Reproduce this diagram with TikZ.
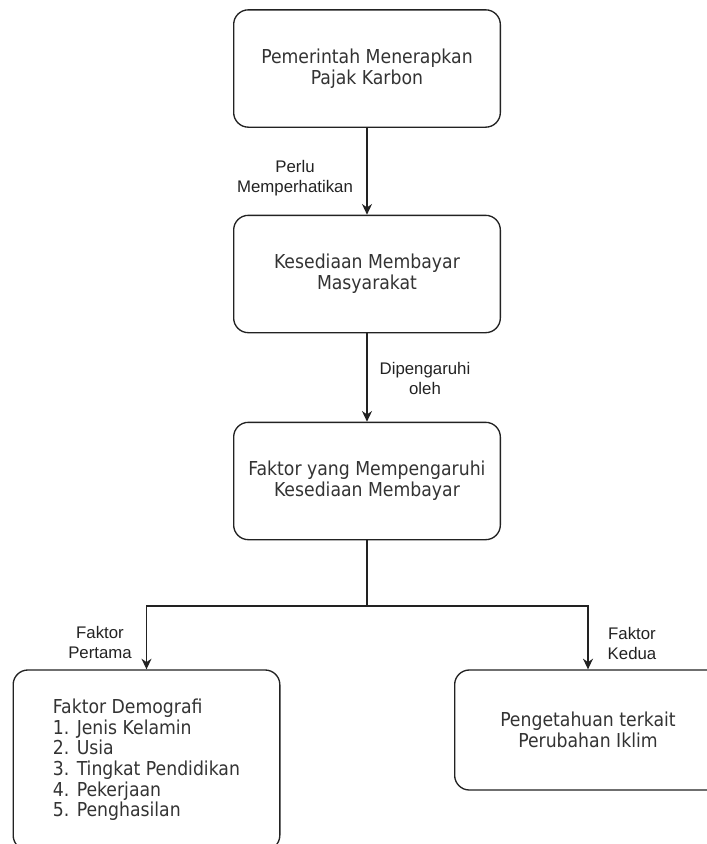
\documentclass[tikz,border=0pt]{standalone}
\usepackage{fontspec}
\setmainfont{Liberation Sans}
\newfontfamily\boxfont{DejaVu Sans Condensed}
\usetikzlibrary{arrows.meta}
\definecolor{linegray}{HTML}{222222}
\definecolor{textgray}{HTML}{333333}
\tikzstyle{block} = [
	draw=linegray,
	line width=1pt,
	rounded corners=11pt,
	minimum width=200pt,
	minimum height=88pt,
	align=center,
	text=textgray,
	font=\boxfont\fontsize{14.4}{15.5}\selectfont
]
\tikzstyle{lbl} = [align=center, text=linegray, font=\fontsize{12.6}{15}\selectfont]
\tikzstyle{line} = [draw=linegray, line width=1pt]
\tikzstyle{arrow} = [line, -{Stealth[length=8pt,width=7.5pt]}]

\begin{document}
\begin{tikzpicture}[x=0.75pt, y=-0.75pt]
	\useasboundingbox (0,0) rectangle (707,844);
	\clip (0,0) rectangle (707,844);

	\node[block, name = PAJAK] at (367,68.5) {Pemerintah Menerapkan\\Pajak Karbon};
	\node[block, name = WTP] at (367,274) {Kesediaan Membayar\\Masyarakat};
	\node[block, name = FAKTOR] at (367,481) {Faktor yang Mempengaruhi\\Kesediaan Membayar};
	\node[block, name = DEMO, minimum height=135pt, align=left] at (146.5,760) {Faktor Demografi\\1. Jenis Kelamin\\2. Usia\\3. Tingkat Pendidikan\\4. Pekerjaan\\5. Penghasilan};
	\node[block, name = IKLIM, minimum height=90pt] at (588,730) {Pengetahuan terkait\\Perubahan Iklim};
	\coordinate (SPLIT) at (367,606);

	\draw[arrow] (PAJAK.south) -- (WTP.north);
	\draw[arrow] (WTP.south) -- (FAKTOR.north);
	\draw[line] (FAKTOR.south) -- (SPLIT);
	\draw[arrow] (SPLIT) -| (DEMO.north);
	\draw[arrow] (SPLIT) -| (IKLIM.north);

	% edge labels
	\node[lbl, name = PERLU] at (295,178) {Perlu\\Memperhatikan};
	\node[lbl, name = OLEH] at (425,378) {Dipengaruhi\\oleh};
	\node[lbl, name = PERTAMA] at (100,642) {Faktor\\Pertama};
	\node[lbl, name = KEDUA] at (632,643) {Faktor\\Kedua};

\end{tikzpicture}
\end{document}
